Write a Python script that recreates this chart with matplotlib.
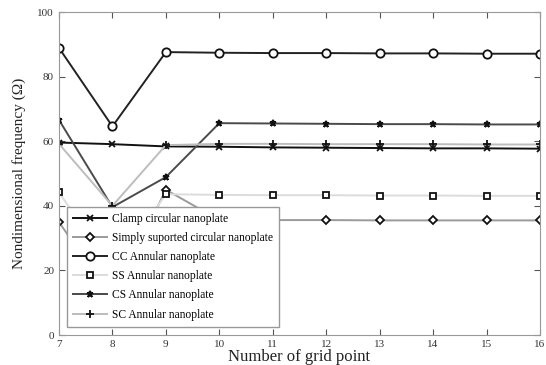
import matplotlib
matplotlib.use("Agg")
import matplotlib.pyplot as plt

plt.rcParams['font.family'] = ['Liberation Serif', 'DejaVu Serif']

grid = [7, 8, 9, 10, 11, 12, 13, 14, 15, 16]
clamp_circ = [59.6, 59.1, 58.4, 58.3, 58.1, 58.0, 57.9, 57.8, 57.8, 57.7]
ss_circ = [35.0, 11.0, 45.0, 35.6, 35.6, 35.6, 35.5, 35.5, 35.5, 35.5]
cc_ann = [88.9, 64.6, 87.6, 87.4, 87.3, 87.3, 87.2, 87.2, 87.1, 87.1]
ss_ann = [44.2, 20.0, 43.6, 43.4, 43.3, 43.3, 43.2, 43.2, 43.1, 43.1]
cs_ann = [66.6, 39.6, 48.9, 65.6, 65.5, 65.4, 65.3, 65.3, 65.2, 65.2]
sc_ann = [59.2, 40.0, 58.8, 59.2, 59.2, 59.1, 59.1, 59.1, 59.0, 59.0]

labels = ["Clamp circular nanoplate",
          "Simply suported circular nanoplate",
          "CC Annular nanoplate",
          "SS Annular nanoplate",
          "CS Annular nanoplate",
          "SC Annular nanoplate"]

fig = plt.figure(figsize=(5.46, 3.65), dpi=100)
ax = fig.add_axes([0.108, 0.082, 0.881, 0.885])

styles = [
    (clamp_circ, '#111111', 'x', 4, 1.4),
    (ss_circ, '#9a9a9a', 'D', 4, 1.4),
    (cc_ann, '#222222', 'o', 6, 1.4),
    (ss_ann, '#dcdcdc', 's', 4, 1.4),
    (cs_ann, '#4a4a4a', '*', 5, 1.4),
    (sc_ann, '#bdbdbd', '+', 6, 1.4),
]
for (vals, col, mk, ms, lw), lab in zip(styles, labels):
    ax.plot(grid, vals, color=col, lw=lw, marker=mk, markersize=ms,
            markerfacecolor='white' if mk in 'Dos' else '#111111',
            markeredgecolor='#111111', markeredgewidth=1.3, label=lab)

ax.set_xlim(7, 16)
ax.set_ylim(0, 100)
ax.set_xticks(grid)
ax.set_yticks([0, 20, 40, 60, 80, 100])
ax.tick_params(direction='in', top=True, right=True, labelsize=8,
               colors='#555555', labelcolor='#333333', length=4)
for s in ax.spines.values():
    s.set_color('#999999')
ax.set_xlabel("Number of grid point", fontsize=12, labelpad=0, color='#222222')
ax.set_ylabel("Nondimensional frequency (Ω)", fontsize=11, color='#222222', labelpad=8)

leg = ax.legend(loc='lower left', bbox_to_anchor=(0.012, 0.018), fontsize=8.3,
                handlelength=2.9, handletextpad=0.45, labelspacing=0.62,
                fancybox=False, framealpha=1, edgecolor='#999999',
                borderpad=0.55, borderaxespad=0.2)
leg.get_frame().set_linewidth(1.0)

fig.savefig("out.png", dpi=100)
